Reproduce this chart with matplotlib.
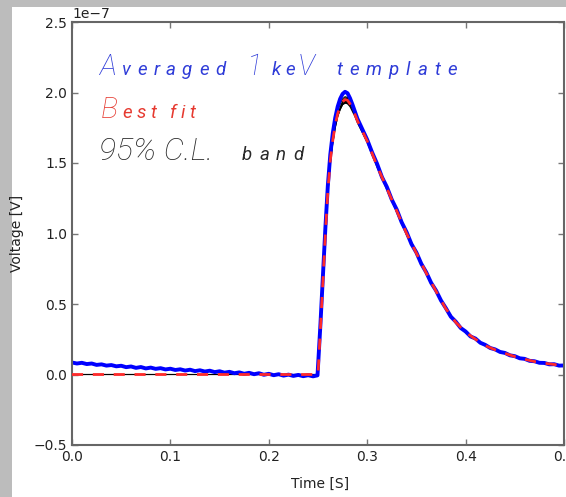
import matplotlib
matplotlib.use("Agg")
import matplotlib.pyplot as plt
from matplotlib.patches import Rectangle
from matplotlib.font_manager import FontProperties

# time samples [s] and voltages (units of 1e-7 V)
base_t = [0.000, 0.005, 0.010, 0.015, 0.020, 0.025, 0.030, 0.035, 0.040, 0.045,
          0.050, 0.055, 0.060, 0.065, 0.070, 0.075, 0.080, 0.085, 0.090, 0.095,
          0.100, 0.105, 0.110, 0.115, 0.120, 0.125, 0.130, 0.135, 0.140, 0.145,
          0.150, 0.155, 0.160, 0.165, 0.170, 0.175, 0.180, 0.185, 0.190, 0.195,
          0.200, 0.205, 0.210, 0.215, 0.220, 0.225, 0.230, 0.235, 0.240, 0.245,
          0.2495]
base_avg = [0.085, 0.078, 0.083, 0.074, 0.078, 0.068, 0.072, 0.063, 0.067, 0.058,
            0.062, 0.052, 0.057, 0.047, 0.053, 0.043, 0.049, 0.040, 0.045, 0.036,
            0.041, 0.032, 0.037, 0.028, 0.034, 0.024, 0.030, 0.021, 0.027, 0.017,
            0.023, 0.013, 0.019, 0.009, 0.015, 0.005, 0.012, 0.002, 0.009, -0.002,
            0.005, -0.005, 0.002, -0.008, -0.001, -0.010, -0.003, -0.012, -0.005, -0.013,
            -0.006]

rise_t = [0.2525, 0.2550, 0.2575, 0.2600, 0.2625, 0.2650, 0.2675, 0.2700,
          0.2725, 0.2750, 0.2775, 0.2800, 0.2825, 0.2850, 0.2875]
rise_avg = [0.36, 0.70, 1.04, 1.34, 1.56, 1.71, 1.82, 1.90,
            1.955, 1.99, 2.005, 1.995, 1.96, 1.915, 1.865]

decay_t = [0.290, 0.295, 0.300, 0.305, 0.310, 0.315, 0.320, 0.325, 0.330, 0.335,
           0.340, 0.345, 0.350, 0.355, 0.360, 0.365, 0.370, 0.375, 0.380, 0.385,
           0.390, 0.395, 0.400, 0.405, 0.410, 0.415, 0.420, 0.425, 0.430, 0.435,
           0.440, 0.445, 0.450, 0.455, 0.460, 0.465, 0.470, 0.475, 0.480, 0.485,
           0.490, 0.495, 0.500]
decay_avg = [1.815, 1.74, 1.665, 1.575, 1.495, 1.40, 1.33, 1.24, 1.17, 1.08,
             1.01, 0.925, 0.865, 0.785, 0.725, 0.65, 0.595, 0.525, 0.47, 0.41,
             0.375, 0.33, 0.305, 0.27, 0.255, 0.225, 0.21, 0.188, 0.178, 0.16,
             0.153, 0.136, 0.13, 0.115, 0.111, 0.097, 0.094, 0.083, 0.082, 0.072,
             0.073, 0.063, 0.064]

fit_t = [0.0, 0.25, 0.2525, 0.255, 0.2575, 0.26, 0.2625, 0.265, 0.2675, 0.27,
         0.2725, 0.275, 0.2775, 0.28, 0.2825, 0.285, 0.2875, 0.29, 0.30, 0.31,
         0.32, 0.33, 0.34, 0.35, 0.36, 0.37, 0.38, 0.39, 0.40, 0.41,
         0.42, 0.43, 0.44, 0.45, 0.46, 0.47, 0.48, 0.49, 0.50]
fit_v = [0, 0, 0.33, 0.66, 1.00, 1.30, 1.52, 1.66, 1.77, 1.85,
         1.90, 1.935, 1.95, 1.945, 1.92, 1.885, 1.845, 1.80, 1.655, 1.48,
         1.32, 1.16, 1.00, 0.86, 0.72, 0.59, 0.465, 0.37, 0.30, 0.25,
         0.205, 0.175, 0.15, 0.127, 0.108, 0.092, 0.080, 0.071, 0.063]
band_lo = [0, 0, 0.32, 0.65, 0.99, 1.28, 1.50, 1.64, 1.75, 1.83,
           1.88, 1.915, 1.925, 1.92, 1.90, 1.865, 1.83, 1.785, 1.645, 1.47,
           1.31, 1.15, 0.99, 0.855, 0.715, 0.585, 0.46, 0.366, 0.297, 0.247,
           0.203, 0.173, 0.148, 0.125, 0.107, 0.091, 0.079, 0.070, 0.062]
band_hi = [0, 0, 0.34, 0.67, 1.01, 1.32, 1.54, 1.68, 1.79, 1.87,
           1.92, 1.955, 1.97, 1.965, 1.94, 1.905, 1.86, 1.815, 1.665, 1.49,
           1.33, 1.17, 1.01, 0.865, 0.725, 0.595, 0.47, 0.374, 0.303, 0.253,
           0.207, 0.177, 0.152, 0.129, 0.109, 0.093, 0.081, 0.072, 0.064]

scale = 1e-7
W, H = 566, 497

avg_t = base_t + rise_t + decay_t
avg_v = [v * scale for v in base_avg + rise_avg + decay_avg]
fit_y = [v * scale for v in fit_v]
lo_y = [v * scale for v in band_lo]
hi_y = [v * scale for v in band_hi]

fig = plt.figure(figsize=(W / 100, H / 100), dpi=100)
fig.patch.set_facecolor("#bcbcbc")
fig.patches.append(Rectangle((12 / W, 0), 1, 1 - 7 / H, transform=fig.transFigure,
                             facecolor="white", edgecolor="none", zorder=-10))

ax = fig.add_axes([72 / W, 1 - 445 / H, 492 / W, 423 / H])
# band sits under the averaged trace, so it only shows where they part (peak, baseline)
ax.fill_between(fit_t, lo_y, hi_y, color="black", lw=0, zorder=1)
ax.plot(fit_t, lo_y, color="black", lw=0.8, zorder=1)
ax.plot(fit_t, hi_y, color="black", lw=0.8, zorder=1)
ax.plot(avg_t, avg_v, color="#0000ff", lw=2.8, zorder=2)
ax.plot(fit_t, fit_y, color="#ff2a2a", lw=2, ls=(0, (4, 3.5)), zorder=4)

ax.set_xlim(0, 0.5)
ax.set_ylim(-0.5e-7, 2.5e-7)
ax.set_xticks([0.0, 0.1, 0.2, 0.3, 0.4, 0.5])
ax.set_yticks([v * scale for v in [-0.5, 0.0, 0.5, 1.0, 1.5, 2.0, 2.5]])
ax.tick_params(direction="in", top=True, right=True, length=4, width=1,
               color="#777777", labelsize=10, labelcolor="#222222")
for s in ax.spines.values():
    s.set_color("#666666")
    s.set_linewidth(1.5)
ax.yaxis.get_offset_text().set_fontsize(10)
ax.set_xlabel("Time [S]", fontsize=10, color="#222222")
ax.set_ylabel("Voltage [V]", fontsize=10, color="#222222")
ax.xaxis.set_label_coords(0.504, -0.075)
ax.yaxis.set_label_coords(-0.098, 0.5)

# annotation: thin big initials, letter-spaced small text
big_font = dict(family="Roboto", weight="light", style="italic")
small_font = dict(family="Roboto", weight="normal", style="italic")
renderer = fig.canvas.get_renderer()


def put(x, y, s, size, color, font):
    fig.text(x / W, 1 - y / H, s, fontsize=size, color=color, va="baseline", **font)
    fp = FontProperties(size=size, **font)
    w, _, _ = renderer.get_text_width_height_descent(s, fp, ismath=False)
    return x + w


def spaced(x, y, s, size, color, track):
    for ch in s:
        x = put(x, y, ch, size, color, small_font) + track
    return x


blue = "#2f3cd8"
red = "#e63a30"
grey = "#2a2a2a"
big, small = 21, 13.5

put(99, 75, "A", big, blue, big_font)
spaced(122, 75, "veraged", small, blue, 6.5)
put(247, 75, "1", big, blue, big_font)
spaced(272, 75, "ke", small, blue, 4)
put(298, 75, "V", big, blue, big_font)
spaced(336, 75, "template", small, blue, 7)

put(101, 118, "B", big, red, big_font)
spaced(122, 118, "est fit", small, red, 4.5)

put(99, 160, "95% C.L.", 23, grey, big_font)
spaced(242, 160, "band", small, grey, 7)

fig.savefig("out.png", dpi=100, facecolor=fig.get_facecolor())
